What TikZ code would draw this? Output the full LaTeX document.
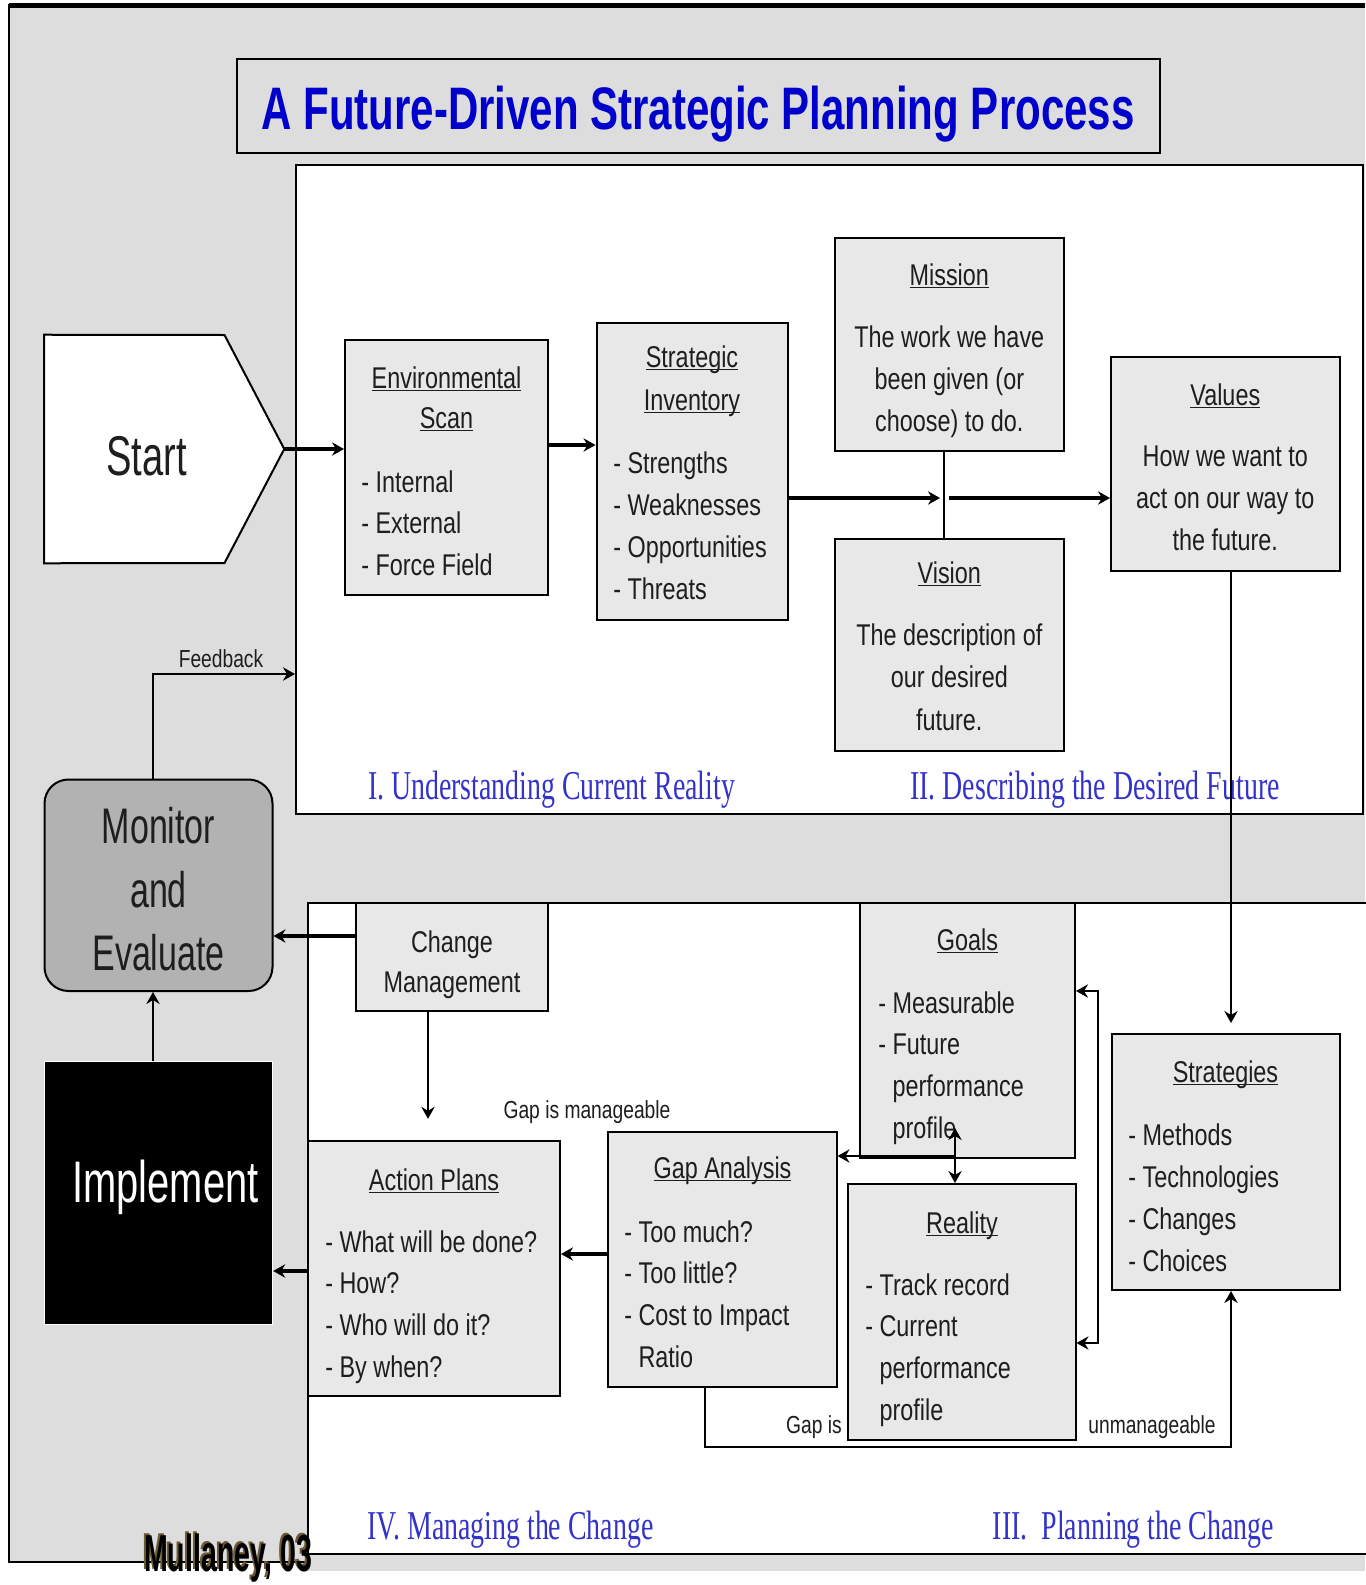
\documentclass[tikz,border=0pt]{standalone}
\usepackage{fontspec}
\setmainfont{Liberation Sans}[FakeStretch=0.78]
\newfontfamily\bigf{Liberation Sans}[FakeStretch=0.68]
\newfontfamily\titf{Liberation Sans}[FakeStretch=0.70]
\newfontfamily\serf{Liberation Serif}[FakeStretch=0.68]
\newfontfamily\mulf{Liberation Sans}[FakeStretch=0.55]
\usetikzlibrary{arrows.meta,fit}
\definecolor{bgc}{RGB}{221,221,221}
\definecolor{boxc}{RGB}{232,232,232}
\definecolor{monc}{RGB}{178,178,178}
\definecolor{txtc}{RGB}{30,30,30}
\definecolor{sectc}{RGB}{51,51,204}
\definecolor{titc}{RGB}{0,0,204}
\definecolor{mulb}{RGB}{110,90,50}
\newcommand\ulx[1]{\setbox0\hbox{#1}\rlap{\rule[-2.4pt]{\wd0}{1pt}}\box0}
\newcommand\itemlist[5]{%
  \foreach \itm [count=\i] in {#5} {\node[body,anchor=base west] (#1\i) at (#2,{#3+#4*(\i-1)}) {\itm};}}
\newcommand\centerlist[5]{%
  \foreach \itm [count=\i] in {#5} {\node[body,anchor=base] (#1\i) at (#2,{#3+#4*(\i-1)}) {\itm};}}
\tikzset{
  panel/.style={draw=black, fill=white, line width=1.5pt, inner sep=0pt},
  box/.style={draw=black, fill=boxc, line width=1.5pt, inner sep=0pt},
  body/.style={font=\fontsize{22.5}{27}\selectfont, text=txtc, inner sep=0pt},
  lbl/.style={font=\fontsize{18.5}{22}\selectfont, text=txtc, inner sep=0pt},
  big/.style={font=\bigf\fontsize{37.5}{45}\selectfont, text=txtc, inner sep=0pt},
  sect/.style={font=\serf\fontsize{30.75}{36}\selectfont, text=sectc, inner sep=0pt},
  conn/.style={draw=black, line width=1.8pt},
  flow/.style={draw=black, line width=2.6pt},
  thinln/.style={draw=black, line width=1.3pt},
  >={Stealth[length=9pt,width=10pt,inset=3pt]}
}
\begin{document}
\begin{tikzpicture}[x=0.75pt,y=-0.75pt]
\useasboundingbox (0,0) rectangle (1365,1585);
% background
\fill[bgc] (9,5) rectangle (1365,1562);
\fill[bgc] (309,1554) rectangle (1365,1571);
\draw[line width=3.75pt] (9,5.8) -- (1365,5.8);
\draw[line width=2pt] (9,4) -- (9,1562) -- (309,1562);
% panels
\node[panel, fit={(296,164.5) (1363,814)}] (upper) {};
\node[panel, fit={(308,903) (1370,1554)}] (lower) {};
% title
\node[draw=black, line width=1.5pt, fill=bgc, inner sep=0pt, fit={(237,59) (1160,153)}] (titlebox) {};
\node[font=\titf\bfseries\fontsize{45}{54}\selectfont, text=titc, anchor=base, inner sep=0pt] (title) at (698,129) {A Future-Driven Strategic Planning Process};
% start
\node[inner sep=0pt, fit={(44.5,335) (284,563)}] (startbox) {};
\draw[fill=white, line width=1.5pt] (startbox.north west) -- (224.5,335) -- (startbox.east) -- (224.5,563) -- (startbox.south west) -- cycle;
\node[font=\bigf\fontsize{42}{50}\selectfont, text=txtc, anchor=base, inner sep=0pt] (starttxt) at (146.5,475) {Start};
% monitor
\node[draw=black, fill=monc, line width=1.5pt, rounded corners=18pt, inner sep=0pt, fit={(44.5,779.5) (272.5,991)}] (mon) {};
\foreach \w/\yy [count=\i] in {Monitor/843, and/907, Evaluate/970} \node[big, anchor=base] (mon\i) at (158.5,\yy) {\w};
% implement
\node[draw=white, fill=black, line width=1pt, inner sep=0pt, fit={(44.5,1061.5) (272.5,1324.5)}] (imp) {};
\node[font=\bigf\fontsize{44}{52}\selectfont, text=white, anchor=base, inner sep=0pt] (imptxt) at (165.5,1202) {Implement};
% boxes
\node[box, fit={(345,340) (548,595)}] (env) {};
\node[box, fit={(596.5,322.5) (787.6,620)}] (si) {};
\node[box, fit={(835,238) (1063.6,451)}] (mission) {};
\node[box, fit={(835,539) (1063.6,751)}] (vision) {};
\node[box, fit={(1111,357) (1339.6,571)}] (values) {};
\node[box, fit={(356,903) (548,1011)}] (cm) {};
\node[box, fit={(859.5,903) (1075,1158)}] (goals) {};
\node[box, fit={(1111.5,1034) (1339.5,1290)}] (strat) {};
\node[box, fit={(308,1140.5) (560,1396)}] (ap) {};
\node[box, fit={(608,1131.5) (836.5,1387)}] (gap) {};
\node[box, fit={(847.5,1184) (1075.5,1439.5)}] (reality) {};
% box texts
\centerlist{envt}{446.5}{388}{40}{\ulx{Environmental}, \ulx{Scan}}
\itemlist{envi}{361}{492}{41.5}{- Internal, - External, - Force Field}
\centerlist{sit}{692}{367}{43}{\ulx{Strategic}, \ulx{Inventory}}
\itemlist{sii}{613}{473}{42.3}{- Strengths, - Weaknesses, - Opportunities, - Threats}
\centerlist{mis}{949.3}{285}{62}{\ulx{Mission}}
\centerlist{misl}{949.3}{347}{42}{The work we have, been given (or, choose) to do.}
\centerlist{vis}{949.3}{583}{62}{\ulx{Vision}}
\centerlist{visl}{949.3}{645}{42.5}{The description of, our desired, future.}
\centerlist{val}{1225.3}{405}{62}{\ulx{Values}}
\centerlist{vall}{1225.3}{466}{42}{How we want to, act on our way to, the future.}
\centerlist{cmt}{452}{952}{40}{Change, Management}
\centerlist{apt}{434}{1190}{40}{\ulx{Action Plans}}
\itemlist{api}{325}{1252}{41.7}{- What will be done?, - How?, - Who will do it?, - By when?}
\centerlist{gapt}{722.5}{1178}{40}{\ulx{Gap Analysis}}
\itemlist{gapi}{624}{1242}{41.7}{- Too much?, - Too little?, - Cost to Impact, \phantom{- }Ratio}
\centerlist{goalt}{967.5}{950}{40}{\ulx{Goals}}
\itemlist{goali}{878}{1013}{41.7}{- Measurable, - Future, \phantom{- }performance, \phantom{- }profile}
\centerlist{realt}{962}{1233}{40}{\ulx{Reality}}
\itemlist{reali}{865}{1295}{41.7}{- Track record, - Current, \phantom{- }performance, \phantom{- }profile}
\centerlist{strt}{1225.5}{1082}{40}{\ulx{Strategies}}
\itemlist{stri}{1128}{1145}{42}{- Methods, - Technologies, - Changes, - Choices}
% section labels
\node[sect, anchor=base] (s1) at (551.5,799) {I. Understanding Current Reality};
\node[sect, anchor=base] (s2) at (1095,799) {II. Describing the Desired Future};
\node[sect, anchor=base] (s4) at (510.5,1539) {IV. Managing the Change};
\node[sect, anchor=base] (s3) at (1133.5,1539) {III.\ \ Planning the Change};
% small labels
\node[lbl, anchor=base] (fbtxt) at (221,667) {Feedback};
\node[lbl, anchor=base] (gapm) at (587,1118) {Gap is manageable};
\node[lbl, anchor=base] (gapis) at (814,1433) {Gap is};
\node[lbl, anchor=base] (unm) at (1152,1433) {unmanageable};
% connectors
\coordinate (yA) at (0,445);
\draw[flow,->] (startbox.east) -- (env.west |- startbox.east);
\draw[flow,->] (env.east |- yA) -- (si.west |- yA);
\coordinate (mvL) at (940,498);
\coordinate (mvR) at (948.5,498);
\coordinate (mv) at (944,498);
\draw[flow,->] (si.east |- mv) -- (mvL);
\draw[flow,->] (mvR) -- (values.west |- mv);
\draw[thinln] (mission.south -| mv) -- (vision.north -| mv);
\coordinate (vx) at (1231,0);
\draw[conn,->,shorten >=7.5pt] (values.south -| vx) -- (strat.north -| vx);
\coordinate (fb) at (153,674);
\draw[conn,->] (mon.north -| fb) |- (upper.west |- fb);
\coordinate (x153) at (153,0);
\draw[conn,->] (imp.north -| x153) -- (mon.south -| x153);
\coordinate (y936) at (0,936);
\draw[flow,->] (cm.west |- y936) -- (mon.east |- y936);
\coordinate (x428) at (428,0);
\draw[conn,->,shorten >=15.5pt] (cm.south -| x428) -- (ap.north -| x428);
\coordinate (y1254) at (0,1254);
\draw[flow,->] (gap.west |- y1254) -- (ap.east |- y1254);
\coordinate (y1271) at (0,1271);
\draw[flow,->] (ap.west |- y1271) -- (imp.east |- y1271);
\coordinate (gtip) at (955,1128);
\coordinate (gj) at (955,1156);
\draw[conn,<->] (gtip) -- (reality.north -| gtip);
\draw[conn,->] (gj) -- (gap.east |- gj);
\coordinate (br1) at (1098,991);
\coordinate (br2) at (1098,1343);
\draw[conn,<->] (goals.east |- br1) -- (br1) -- (br2) -- (reality.east |- br2);
\coordinate (gb) at (705,1447);
\coordinate (gc) at (1231,1447);
\draw[thinln,->] (gap.south -| gb) -- (gb) -- (gc) -- (strat.south -| gc);
% signature
\node[font=\mulf\bfseries\fontsize{39}{46}\selectfont, text=mulb, anchor=base, inner sep=0pt] (mulsh) at (226,1569) {Mullaney, 03};
\node[font=\mulf\bfseries\fontsize{39}{46}\selectfont, text=black, anchor=base, inner sep=0pt] (mul) at (228,1571) {Mullaney, 03};
\end{tikzpicture}
\end{document}
